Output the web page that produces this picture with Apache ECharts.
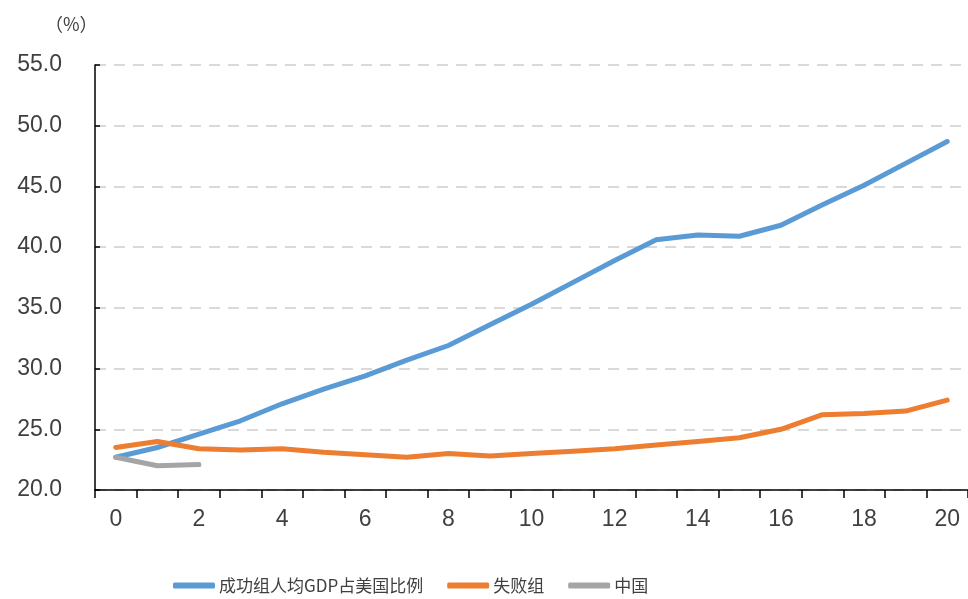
<!DOCTYPE html>
<html><head><meta charset="utf-8">
<script src="https://cdn.jsdelivr.net/npm/echarts@6/dist/echarts.min.js"></script>
<style>html,body{margin:0;padding:0;background:#fff}#c{width:968px;height:599px}</style>
</head><body><div id="c"></div>
<script>
const categories = ['0','1','2','3','4','5','6','7','8','9','10','11','12','13','14','15','16','17','18','19','20'];
const successGroup = [22.7,23.5,24.6,25.7,27.1,28.3,29.4,30.7,31.9,33.6,35.3,37.1,38.9,40.6,41.0,40.9,41.8,43.5,45.1,46.9,48.7];
const failGroup = [23.5,24.0,23.4,23.3,23.4,23.1,22.9,22.7,23.0,22.8,23.0,23.2,23.4,23.7,24.0,24.3,25.0,26.2,26.3,26.5,27.4];
const china = [22.7,22.0,22.1];
const seriesNames = ['成功组人均GDP占美国比例','失败组','中国'];
const colors = ['#5B9BD5','#ED7D31','#A5A5A5'];
const yMin = 20, yMax = 55, yStep = 5;

const numFont = '"Liberation Sans Narrow","Liberation Sans",sans-serif';
const cjkFont = '"Noto Sans CJK SC",sans-serif';
const chart = echarts.init(document.getElementById('c'));
chart.setOption({
  animation: false,
  title: {text: '（%）', left: 40, top: 10, textStyle: {fontFamily: cjkFont, fontSize: 18, fontWeight: 'normal', color: '#404040'}},
  grid: {left: 95, top: 65, width: 878, bottom: 109},
  legend: {
    left: 168, top: 572, icon: 'roundRect', itemWidth: 42, itemHeight: 6, itemGap: 24,
    textStyle: {fontFamily: cjkFont, fontSize: 17, color: '#404040', padding: [0,0,0,-1]},
    data: seriesNames
  },
  xAxis: {
    type: 'category', data: categories, boundaryGap: true,
    axisLine: {lineStyle: {color: '#000', width: 1.5}},
    axisTick: {show: true, interval: 0, length: 8, lineStyle: {color: '#000', width: 1.5}},
    axisLabel: {interval: 1, margin: 18, fontFamily: numFont, fontSize: 23, color: '#404040'}
  },
  yAxis: {
    type: 'value', min: yMin, max: yMax, interval: yStep,
    axisLine: {show: true, lineStyle: {color: '#000', width: 1.5}},
    axisTick: {show: true, inside: true, length: 5, lineStyle: {color: '#000', width: 1.5}},
    axisLabel: {margin: 33, fontFamily: numFont, fontSize: 23, color: '#404040', formatter: v => v.toFixed(1)},
    splitLine: {show: true, lineStyle: {color: '#D9D9D9', width: 2, type: [11, 8]}}
  },
  series: [
    {name: seriesNames[0], type: 'line', data: successGroup, symbol: 'none', color: colors[0], lineStyle: {width: 5, cap: 'round', join: 'round'}},
    {name: seriesNames[1], type: 'line', data: failGroup, symbol: 'none', color: colors[1], lineStyle: {width: 5, cap: 'round', join: 'round'}},
    {name: seriesNames[2], type: 'line', data: china, symbol: 'none', color: colors[2], lineStyle: {width: 5, cap: 'round', join: 'round'}}
  ]
});
</script></body></html>
